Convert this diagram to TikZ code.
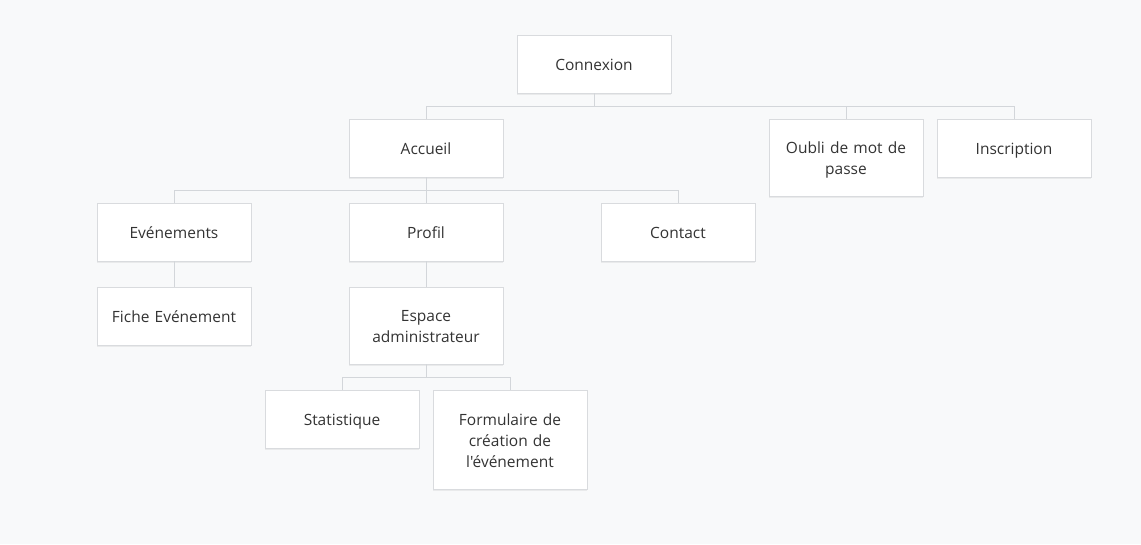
\documentclass[tikz,border=0pt]{standalone}
\usepackage{fontspec}
\setmainfont{Open Sans}[Ligatures=TeXOff]
\usetikzlibrary{shadows}
\definecolor{bg}{HTML}{F8F9FA}
\definecolor{bord}{HTML}{D9DBDE}
\definecolor{conn}{HTML}{D3D6DA}
\definecolor{txt}{HTML}{333333}
\tikzset{
  box/.style={draw=bord, line width=0.8pt, fill=white, minimum width=154pt, text width=150pt,
    align=center, inner sep=0pt, font=\fontsize{15.5}{21}\selectfont, text=txt,
    execute at begin node={\rule{0pt}{17.2pt}},
    execute at end node={\rule[-3.8pt]{0pt}{0pt}},
    drop shadow={opacity=0.12, shadow xshift=0pt, shadow yshift=-1.5pt}},
  one/.style={box, minimum height=58pt},
  two/.style={box, minimum height=77pt},
  three/.style={box, minimum height=99pt},
  link/.style={draw=conn, line width=0.8pt}
}
\begin{document}
\begin{tikzpicture}[x=1pt, y=-1pt]
\fill[bg] (0,0) rectangle (1141,544);
\useasboundingbox (0,0) rectangle (1141,544);
\node[one] (conn) at (594,64) {Connexion};
\node[one] (acc) at (426,148) {Accueil};
\node[two] (oubli) at (846,157.5) {Oubli de mot de\\passe};
\node[one] (insc) at (1014,148) {Inscription};
\node[one] (evt) at (174,232) {Evénements};
\node[one] (prof) at (426,232) {Profil};
\node[one] (cont) at (678,232) {Contact};
\node[one] (fiche) at (174,316) {Fiche Evénement};
\node[two] (esp) at (426,325.5) {Espace\\administrateur};
\node[one] (stat) at (342,419) {Statistique};
\node[three] (form) at (510,439.5) {Formulaire de\\création de\\l'événement};
% connectors
\draw[link] (conn.south) -- ++(0,13) -| (acc.north);
\draw[link] (conn.south) ++(0,13) -| (oubli.north);
\draw[link] (conn.south) ++(0,13) -| (insc.north);
\draw[link] (acc.south) -- ++(0,13) -| (evt.north);
\draw[link] (acc.south) -- (prof.north);
\draw[link] (acc.south) ++(0,13) -| (cont.north);
\draw[link] (evt.south) -- (fiche.north);
\draw[link] (prof.south) -- (esp.north);
\draw[link] (esp.south) -- ++(0,13) -| (stat.north);
\draw[link] (esp.south) ++(0,13) -| (form.north);
\end{tikzpicture}
\end{document}
